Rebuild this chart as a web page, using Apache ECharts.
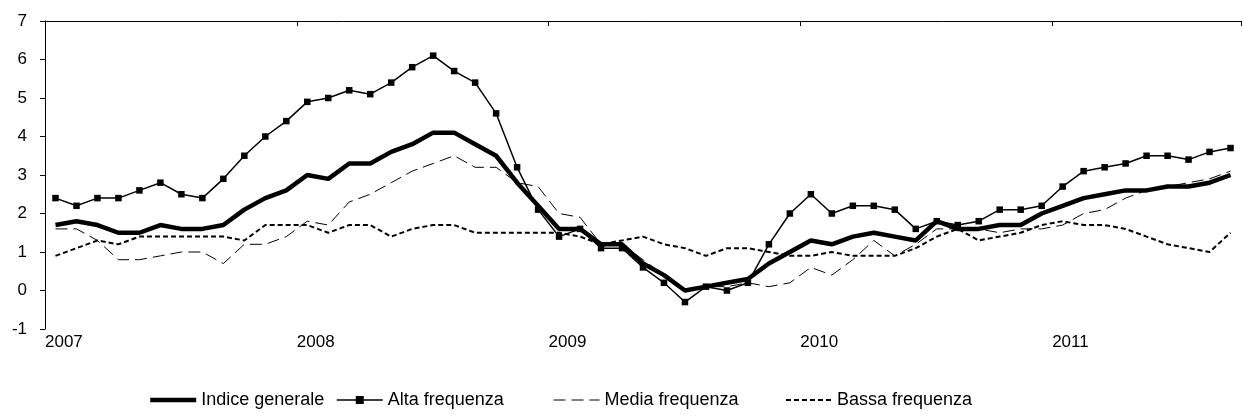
<!DOCTYPE html>
<html>
<head>
<meta charset="utf-8">
<script src="https://cdn.jsdelivr.net/npm/echarts@6/dist/echarts.min.js"></script>
<style>
  html, body { margin: 0; padding: 0; background: #fff; }
  #chart { width: 1244px; height: 417px; }
</style>
</head>
<body>
<div id="chart"></div>
<script>
// year labels on the x axis, one every 12 months
const years = ['2007', '2008', '2009', '2010', '2011']
// monthly categories, Jan 2007 .. Sep 2011
const months = []
years.forEach(y => {
  for (let m = 1; m <= 12; m++) {
    if (y === '2011' && m > 9) break
    months.push(y + '-' + (m < 10 ? '0' + m : m))
  }
})

const indiceGenerale = [
  1.7, 1.8, 1.7, 1.5, 1.5, 1.7, 1.6, 1.6, 1.7, 2.1, 2.4, 2.6,
  3.0, 2.9, 3.3, 3.3, 3.6, 3.8, 4.1, 4.1, 3.8, 3.5, 2.8, 2.2,
  1.6, 1.6, 1.2, 1.2, 0.7, 0.4, 0.0, 0.1, 0.2, 0.3, 0.7, 1.0,
  1.3, 1.2, 1.4, 1.5, 1.4, 1.3, 1.8, 1.6, 1.6, 1.7, 1.7, 2.0,
  2.2, 2.4, 2.5, 2.6, 2.6, 2.7, 2.7, 2.8, 3.0
]
const altaFrequenza = [
  2.4, 2.2, 2.4, 2.4, 2.6, 2.8, 2.5, 2.4, 2.9, 3.5, 4.0, 4.4,
  4.9, 5.0, 5.2, 5.1, 5.4, 5.8, 6.1, 5.7, 5.4, 4.6, 3.2, 2.1,
  1.4, 1.6, 1.1, 1.1, 0.6, 0.2, -0.3, 0.1, 0.0, 0.2, 1.2, 2.0,
  2.5, 2.0, 2.2, 2.2, 2.1, 1.6, 1.8, 1.7, 1.8, 2.1, 2.1, 2.2,
  2.7, 3.1, 3.2, 3.3, 3.5, 3.5, 3.4, 3.6, 3.7
]
const mediaFrequenza = [
  1.6, 1.6, 1.3, 0.8, 0.8, 0.9, 1.0, 1.0, 0.7, 1.2, 1.2, 1.4,
  1.8, 1.7, 2.3, 2.5, 2.8, 3.1, 3.3, 3.5, 3.2, 3.2, 2.8, 2.7,
  2.0, 1.9, 1.2, 1.2, 0.8, 0.4, 0.0, 0.1, 0.1, 0.2, 0.1, 0.2,
  0.6, 0.4, 0.8, 1.3, 0.9, 1.2, 1.6, 1.6, 1.6, 1.5, 1.6, 1.6,
  1.7, 2.0, 2.1, 2.4, 2.6, 2.7, 2.8, 2.9, 3.1
]
const bassaFrequenza = [
  0.9, 1.1, 1.3, 1.2, 1.4, 1.4, 1.4, 1.4, 1.4, 1.3, 1.7, 1.7,
  1.7, 1.5, 1.7, 1.7, 1.4, 1.6, 1.7, 1.7, 1.5, 1.5, 1.5, 1.5,
  1.5, 1.4, 1.2, 1.3, 1.4, 1.2, 1.1, 0.9, 1.1, 1.1, 1.0, 0.9,
  0.9, 1.0, 0.9, 0.9, 0.9, 1.1, 1.4, 1.6, 1.3, 1.4, 1.5, 1.7,
  1.8, 1.7, 1.7, 1.6, 1.4, 1.2, 1.1, 1.0, 1.5
]

const font = 'Arial, "Liberation Sans", sans-serif'

// one legend per entry so each sits where it does in the original
function legendAt (name, left, lineWidth) {
  return {
    data: [{ name: name, itemStyle: { opacity: name === 'Alta frequenza' ? 1 : 0 }, lineStyle: { width: lineWidth } }],
    left: left,
    top: 386,
    itemWidth: 46,
    itemHeight: 10,
    itemGap: 0,
    textStyle: { fontSize: 18, color: '#000', fontFamily: font }
  }
}

let myChart = echarts.init(document.getElementById('chart'))
myChart.setOption({
  animation: false,
  textStyle: { fontFamily: font, color: '#000' },
  grid: { left: 45, top: 21, bottom: 88, right: -10, containLabel: false },
  legend: [
    legendAt('Indice generale', 143, 4.5),
    legendAt('Alta frequenza', 331, 1.5),
    legendAt('Media frequenza', 548, 1),
    legendAt('Bassa frequenza', 780, 2)
  ],
  xAxis: [
    {
      // year labels under the plot
      type: 'value',
      position: 'bottom',
      min: 0,
      max: months.length,
      interval: 12,
      axisLine: { show: false },
      axisTick: { show: false },
      splitLine: { show: false },
      axisLabel: {
        fontSize: 17,
        color: '#000',
        align: 'left',
        margin: 5,
        formatter: v => (v % 12 === 0 && years[v / 12]) ? years[v / 12] : ''
      }
    },
    {
      // axis line on zero with year ticks
      type: 'category',
      position: 'top',
      data: months,
      boundaryGap: true,
      axisLine: { onZero: true, lineStyle: { color: '#000', width: 1 } },
      axisTick: { show: true, inside: true, interval: 11, length: 5, lineStyle: { color: '#000' } },
      axisLabel: { show: false },
      splitLine: { show: false }
    }
  ],
  yAxis: {
    type: 'value',
    min: -1,
    max: 7,
    interval: 1,
    axisLine: { show: true, lineStyle: { color: '#000', width: 1 } },
    axisTick: { show: true, length: 5, lineStyle: { color: '#000' } },
    axisLabel: { fontSize: 17, color: '#000', margin: 18 },
    splitLine: { show: false }
  },
  series: [
    {
      name: 'Bassa frequenza',
      type: 'line',
      xAxisIndex: 1,
      data: bassaFrequenza,
      symbol: 'none',
      lineStyle: { color: '#000', width: 2, type: [5, 3] },
      itemStyle: { color: '#000' }
    },
    {
      name: 'Media frequenza',
      type: 'line',
      xAxisIndex: 1,
      data: mediaFrequenza,
      symbol: 'none',
      lineStyle: { color: '#000', width: 1, type: [12, 6] },
      itemStyle: { color: '#000' }
    },
    {
      name: 'Indice generale',
      type: 'line',
      xAxisIndex: 1,
      data: indiceGenerale,
      symbol: 'none',
      lineStyle: { color: '#000', width: 4.5 },
      itemStyle: { color: '#000' }
    },
    {
      name: 'Alta frequenza',
      type: 'line',
      xAxisIndex: 1,
      data: altaFrequenza,
      symbol: 'rect',
      symbolSize: 6.5,
      lineStyle: { color: '#000', width: 1.5 },
      itemStyle: { color: '#000' }
    }
  ]
})
</script>
</body>
</html>
